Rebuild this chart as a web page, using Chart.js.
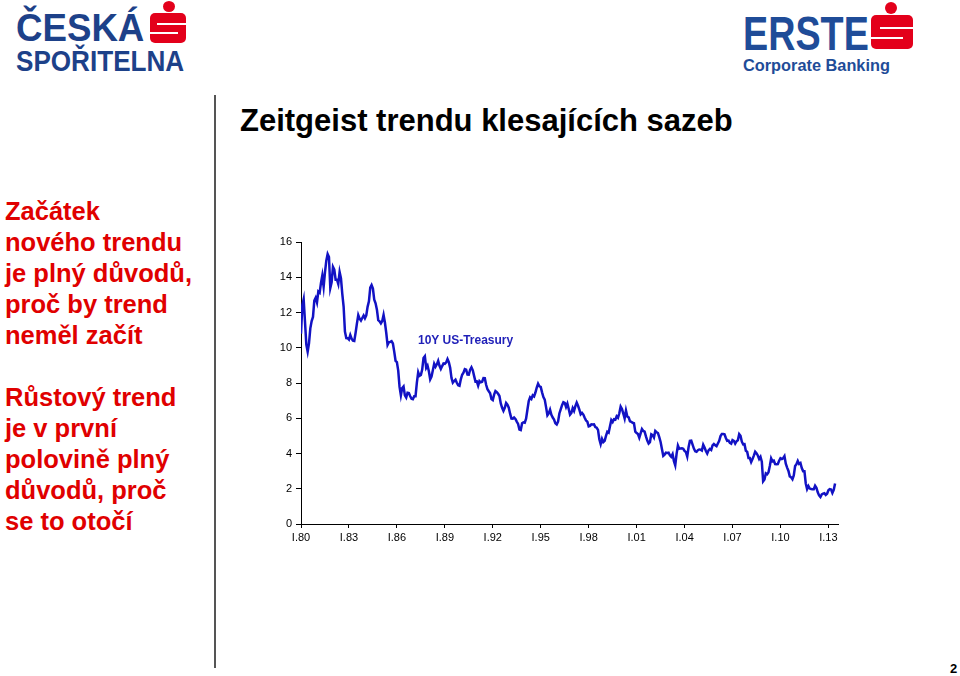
<!DOCTYPE html>
<html>
<head>
<meta charset="utf-8">
<script src="https://cdn.jsdelivr.net/npm/chart.js@4.4.1/dist/chart.umd.min.js"></script>
<style>
    body { margin: 0; background: #fff; font-family: Arial, "Liberation Sans", sans-serif; }
    #page { position: relative; width: 960px; height: 676px; overflow: hidden; background: #fff; }
    .abs { position: absolute; }
    .logo-txt { color: #1d4189; font-weight: bold; font-family: "Liberation Sans", Arial, sans-serif; white-space: nowrap; transform-origin: 0 0; line-height: 1; }
    .s-dot { position: absolute; background: #e3001b; border-radius: 50%; }
    .s-box { position: absolute; background: #e3001b; border-radius: 5px; }
    .s-line { position: absolute; background: #fff; height: 2px; }
    #title { left: 240px; top: 102px; font-size: 31px; font-weight: bold; color: #000; white-space: nowrap; line-height: 1.2; }
    .side { left: 5px; color: #e00000; font-weight: bold; font-size: 25.5px; line-height: 31px; white-space: nowrap; }
    #divider { left: 214px; top: 95px; width: 2px; height: 573px; background: #555; }
    #pageNo { left: 950px; top: 661px; font-size: 13px; font-weight: bold; }
    #chartBox { left: 260px; top: 230px; width: 590px; height: 330px; }
    #seriesLabel { left: 418px; top: 333px; color: #1f1fb8; font-weight: bold; font-size: 12px; }
</style>
</head>
<body>
<div id="page">
    <!-- Česká spořitelna logo -->
    <div class="abs logo-txt" style="left:16px; top:8px; font-size:39px; transform:scaleX(0.94);">ČESKÁ</div>
    <div class="abs logo-txt" style="left:16px; top:47px; font-size:29px; transform:scaleX(0.9);">SPOŘITELNA</div>
    <div class="s-dot" style="left:163px; top:1px; width:12px; height:11px;"></div>
    <div class="s-box" style="left:150px; top:13px; width:36px; height:30px;"></div>
    <div class="s-line" style="left:157px; top:23px; width:29px;"></div>
    <div class="s-line" style="left:150px; top:32px; width:28px;"></div>

    <!-- Erste logo -->
    <div class="abs logo-txt" style="left:743px; top:9px; font-size:49px; transform:scaleX(0.77); color:#1f4c98;">ERSTE</div>
    <div class="abs logo-txt" style="left:743px; top:58px; font-size:16px; transform:scaleX(1.02); color:#1f4c98;">Corporate Banking</div>
    <div class="s-dot" style="left:885px; top:2px; width:12px; height:12px;"></div>
    <div class="s-box" style="left:871px; top:15px; width:42px; height:34px;"></div>
    <div class="s-line" style="left:880px; top:27px; width:33px;"></div>
    <div class="s-line" style="left:871px; top:37px; width:32px;"></div>

    <div id="title" class="abs">Zeitgeist trendu klesajících sazeb</div>

    <div class="abs side" style="top:196px;">Začátek<br>nového trendu<br>je plný důvodů,<br>proč by trend<br>neměl začít</div>
    <div class="abs side" style="top:382px;">Růstový trend<br>je v první<br>polovině plný<br>důvodů, proč<br>se to otočí</div>

    <div id="divider" class="abs"></div>

    <div id="chartBox" class="abs"><canvas id="yieldChart" width="590" height="330"></canvas></div>
    <div id="seriesLabel" class="abs">10Y US-Treasury</div>

    <div id="pageNo" class="abs">2</div>
</div>

<script>
// 10Y US Treasury yield, monthly, from January 1980
const startYear = 1980;
const yields10y = [
    10.80, 12.41, 12.75, 11.47, 10.18, 9.78, 10.25, 11.10, 11.51, 11.75, 12.68, 12.84, // 1980
    12.57, 13.19, 13.12, 13.68, 14.10, 13.47, 14.28, 14.94, 15.32, 15.15, 13.39, 13.72, // 1981
    14.59, 14.43, 13.86, 13.87, 13.62, 14.30, 13.95, 13.06, 12.34, 10.91, 10.55, 10.54, // 1982
    10.46, 10.72, 10.51, 10.40, 10.38, 10.85, 11.38, 11.85, 11.65, 11.54, 11.69, 11.83, // 1983
    11.67, 11.84, 12.32, 12.63, 13.41, 13.56, 13.36, 12.72, 12.52, 12.16, 11.57, 11.50, // 1984
    11.38, 11.51, 11.86, 11.43, 10.85, 10.16, 10.31, 10.33, 10.37, 10.24, 9.78, 9.26,   // 1985
    9.19, 8.70, 7.78, 7.30, 7.71, 7.80, 7.30, 7.17, 7.45, 7.43, 7.25, 7.11,             // 1986
    7.08, 7.25, 7.25, 8.02, 8.61, 8.40, 8.45, 8.76, 9.42, 9.52, 8.86, 8.99,             // 1987
    8.67, 8.21, 8.37, 8.72, 9.09, 8.92, 9.06, 9.26, 8.98, 8.80, 8.96, 9.11,             // 1988
    9.09, 9.17, 9.36, 9.18, 8.86, 8.28, 8.02, 8.11, 8.19, 8.01, 7.87, 7.84,             // 1989
    8.21, 8.47, 8.59, 8.79, 8.76, 8.48, 8.47, 8.75, 8.89, 8.72, 8.39, 8.08,             // 1990
    8.09, 7.85, 8.11, 8.04, 8.07, 8.28, 8.27, 7.90, 7.65, 7.53, 7.42, 7.09,             // 1991
    7.03, 7.34, 7.54, 7.48, 7.39, 7.26, 6.84, 6.59, 6.42, 6.59, 6.87, 6.77,             // 1992
    6.60, 6.26, 5.98, 5.97, 6.04, 5.96, 5.81, 5.68, 5.36, 5.33, 5.72, 5.77,             // 1993
    5.75, 5.97, 6.48, 6.97, 7.18, 7.10, 7.30, 7.24, 7.46, 7.74, 7.96, 7.81,             // 1994
    7.78, 7.47, 7.20, 7.06, 6.63, 6.17, 6.28, 6.49, 6.20, 6.04, 5.93, 5.71,             // 1995
    5.65, 5.81, 6.27, 6.51, 6.74, 6.91, 6.87, 6.64, 6.83, 6.53, 6.20, 6.30,             // 1996
    6.58, 6.42, 6.69, 6.89, 6.71, 6.49, 6.22, 6.30, 6.21, 6.03, 5.88, 5.81,             // 1997
    5.54, 5.57, 5.65, 5.64, 5.65, 5.50, 5.46, 5.34, 4.81, 4.53, 4.83, 4.65,             // 1998
    4.72, 5.00, 5.23, 5.18, 5.54, 5.90, 5.79, 5.94, 5.92, 6.11, 6.03, 6.28,             // 1999
    6.66, 6.52, 6.26, 5.99, 6.44, 6.10, 6.05, 5.83, 5.80, 5.74, 5.72, 5.24,             // 2000
    5.16, 5.10, 4.89, 5.14, 5.39, 5.28, 5.24, 4.97, 4.73, 4.57, 4.65, 5.09,             // 2001
    5.04, 4.91, 5.28, 5.21, 5.16, 4.93, 4.65, 4.26, 3.87, 3.94, 4.05, 4.03,             // 2002
    4.05, 3.90, 3.81, 3.96, 3.57, 3.33, 3.98, 4.45, 4.27, 4.29, 4.30, 4.27,             // 2003
    4.15, 4.08, 3.83, 4.35, 4.72, 4.73, 4.50, 4.28, 4.13, 4.10, 4.19, 4.23,             // 2004
    4.22, 4.17, 4.50, 4.34, 4.14, 4.00, 4.18, 4.26, 4.20, 4.46, 4.54, 4.47,             // 2005
    4.42, 4.57, 4.72, 4.99, 5.11, 5.11, 5.09, 4.88, 4.72, 4.73, 4.60, 4.56,             // 2006
    4.76, 4.72, 4.56, 4.69, 4.75, 5.10, 5.00, 4.67, 4.52, 4.53, 4.15, 4.10,             // 2007
    3.74, 3.74, 3.51, 3.68, 3.88, 4.10, 4.01, 3.89, 3.69, 3.81, 3.53, 2.42,             // 2008
    2.52, 2.87, 2.82, 2.93, 3.29, 3.72, 3.56, 3.59, 3.40, 3.39, 3.40, 3.59,             // 2009
    3.73, 3.69, 3.73, 3.85, 3.42, 3.20, 3.01, 2.70, 2.65, 2.54, 2.76, 3.29,             // 2010
    3.39, 3.58, 3.41, 3.46, 3.17, 3.00, 3.00, 2.30, 1.98, 2.15, 2.01, 1.98,             // 2011
    1.97, 1.97, 2.17, 2.05, 1.80, 1.62, 1.53, 1.68, 1.72, 1.75, 1.65, 1.72,             // 2012
    1.91, 1.98, 1.96, 1.76, 1.93, 2.30                                                  // 2013
];

// x axis ticks every three years, labelled as January ("I.") of the year
const tickYears = [1980, 1983, 1986, 1989, 1992, 1995, 1998, 2001, 2004, 2007, 2010, 2013];
const tickLabels = ['I.80', 'I.83', 'I.86', 'I.89', 'I.92', 'I.95', 'I.98', 'I.01', 'I.04', 'I.07', 'I.10', 'I.13'];
const yTicks = [0, 2, 4, 6, 8, 10, 12, 14, 16];

var points = yields10y.map(function (v, i) {
    return { x: startYear + i / 12, y: v };
});

var ctx = document.getElementById('yieldChart').getContext('2d');
var yieldChart = new Chart(ctx, {
    type: 'line',
    data: {
        datasets: [{
            label: '10Y US-Treasury',
            data: points,
            borderColor: '#1212c4',
            borderWidth: 2.5,
            pointRadius: 0,
            tension: 0,
            fill: false
        }]
    },
    options: {
        responsive: false,
        animation: false,
        layout: { padding: { left: 0, right: 12, top: 12, bottom: 0 } },
        plugins: {
            legend: { display: false },
            tooltip: { enabled: false }
        },
        scales: {
            x: {
                type: 'linear',
                min: 1980,
                max: 2013.6,
                afterBuildTicks: function (scale) {
                    scale.ticks = tickYears.map(function (y) { return { value: y }; });
                },
                afterFit: function (scale) { scale.height = 36; },
                grid: { drawOnChartArea: false, drawTicks: true, tickLength: 4, color: '#000' },
                border: { color: '#000', width: 1 },
                ticks: {
                    color: '#000',
                    font: { family: 'Arial, "Liberation Sans"', size: 11 },
                    padding: 3,
                    maxRotation: 0,
                    autoSkip: false,
                    callback: function (value) {
                        var idx = tickYears.indexOf(value);
                        return idx >= 0 ? tickLabels[idx] : '';
                    }
                }
            },
            y: {
                min: 0,
                max: 16,
                afterBuildTicks: function (scale) {
                    scale.ticks = yTicks.map(function (v) { return { value: v }; });
                },
                afterFit: function (scale) { scale.width = 41; },
                grid: { drawOnChartArea: false, drawTicks: true, tickLength: 5, color: '#000' },
                border: { color: '#000', width: 1 },
                ticks: {
                    color: '#000',
                    font: { family: 'Arial, "Liberation Sans"', size: 11 },
                    padding: 4
                }
            }
        }
    }
});
</script>
</body>
</html>
